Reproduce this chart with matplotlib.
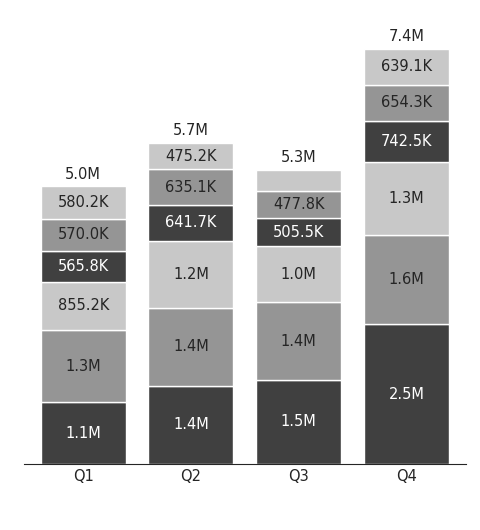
import matplotlib
matplotlib.use("Agg")
import matplotlib.pyplot as plt
import numpy as np

quarters = ["Q1", "Q2", "Q3", "Q4"]
series = [
    [1.1e6, 1.4e6, 1.5e6, 2.5e6],
    [1.3e6, 1.4e6, 1.4e6, 1.6e6],
    [855.2e3, 1.2e6, 1.0e6, 1.3e6],
    [565.8e3, 641.7e3, 505.5e3, 742.5e3],
    [570.0e3, 635.1e3, 477.8e3, 654.3e3],
    [580.2e3, 475.2e3, 390e3, 639.1e3],
]
labels = [
    ["1.1M", "1.4M", "1.5M", "2.5M"],
    ["1.3M", "1.4M", "1.4M", "1.6M"],
    ["855.2K", "1.2M", "1.0M", "1.3M"],
    ["565.8K", "641.7K", "505.5K", "742.5K"],
    ["570.0K", "635.1K", "477.8K", "654.3K"],
    ["580.2K", "475.2K", "", "639.1K"],
]
totals = ["5.0M", "5.7M", "5.3M", "7.4M"]
colors = ["#404040", "#959595", "#c8c8c8", "#404040", "#959595", "#c8c8c8"]
textc = ["white", "#252525", "#252525", "white", "#252525", "#252525"]

fig = plt.figure(figsize=(4.8, 5.3), dpi=100)
ax = fig.add_axes([0.05, 0.125, 0.92, 0.80])
x = np.arange(len(quarters))
bottom = np.zeros(len(quarters))
for vals, lab, c, tc in zip(series, labels, colors, textc):
    vals = np.array(vals)
    ax.bar(x, vals, 0.79, bottom=bottom, color=c, edgecolor="white", linewidth=1)
    for xi, v, b, l in zip(x, vals, bottom, lab):
        if l:
            ax.text(xi, b + v / 2, l, ha="center", va="center", color=tc, fontsize=10.5)
    bottom += vals
for xi, b, t in zip(x, bottom, totals):
    ax.text(xi, b + 0.08e6, t, ha="center", va="bottom", color="#252525", fontsize=10.5)
ax.set_xlim(-0.55, 3.55)
ax.set_ylim(0, 7.6e6)
ax.set_yticks([])
ax.set_xticks(x)
ax.set_xticklabels(quarters, fontsize=10.5, color="#252525")
ax.tick_params(axis="x", length=0)
for s in ["top", "right", "left"]:
    ax.spines[s].set_visible(False)
ax.spines["bottom"].set_color("#252525")
fig.savefig("out.png")
